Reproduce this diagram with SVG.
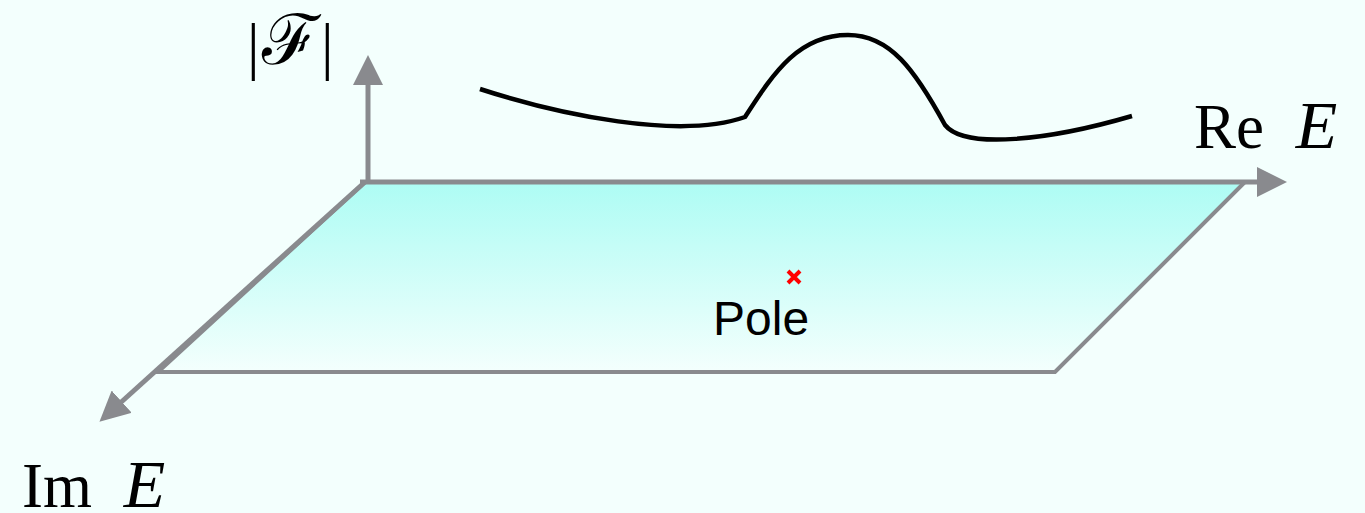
<svg xmlns="http://www.w3.org/2000/svg" width="1365" height="513" viewBox="0 0 1365 513">
<defs>
<linearGradient id="plane" x1="0" y1="0" x2="0" y2="1">
<stop offset="0" stop-color="#adfcf4"/>
<stop offset="1" stop-color="#f4fffd"/>
</linearGradient>
<marker id="arr" markerWidth="6" markerHeight="6" refX="1" refY="3" orient="auto" markerUnits="strokeWidth">
<path d="M0,0 L6,3 L0,6 Z" fill="#898a8e"/>
</marker>
<style>
.ax{stroke:#898a8e;stroke-width:5;fill:none}
.math{font-family:"Liberation Serif","DejaVu Serif",serif;fill:#000;font-size:63px}
.lbl{font-family:"Liberation Sans",Arial,sans-serif;fill:#000}
</style>
</defs>
<rect width="1365" height="513" fill="#f3fffd"/>
<g id="plane-node">
<path d="M365,182 L1245,182 L1055,372 L158,372 Z" fill="url(#plane)" stroke="#898a8e" stroke-width="4"/>
</g>
<g id="connectors">
<line class="ax" x1="368" y1="182" x2="368" y2="80" marker-end="url(#arr)"/>
<line class="ax" x1="360" y1="182" x2="1262" y2="182" marker-end="url(#arr)"/>
<line class="ax" x1="365" y1="182" x2="118" y2="405" marker-end="url(#arr)"/>
</g>
<g id="curve">
<path d="M480,89 C560,115 680,140 745,117 C775,70 800,35 848,35 C890,35 915,70 945,125 C965,150 1050,140 1132,116" fill="none" stroke="#000" stroke-width="4.5"/>
</g>
<g id="pole">
<path d="M788,271 L800,283 M800,271 L788,283" stroke="#ff0000" stroke-width="4"/>
<text class="lbl" x="713" y="335" font-size="48">Pole</text>
</g>
<g id="label-F">
<text class="math" x="247" y="67">|</text>
<text class="math" x="262" y="64" style="font-size:70px">ℱ</text>
<text class="math" x="321" y="67">|</text>
</g>
<g id="label-Re">
<text class="math" x="1194" y="148">Re <tspan dx="16" style="font-style:italic;font-size:68px">E</tspan></text>
</g>
<g id="label-Im">
<text class="math" x="22" y="507">Im <tspan dx="16" style="font-style:italic;font-size:68px">E</tspan></text>
</g>
</svg>
